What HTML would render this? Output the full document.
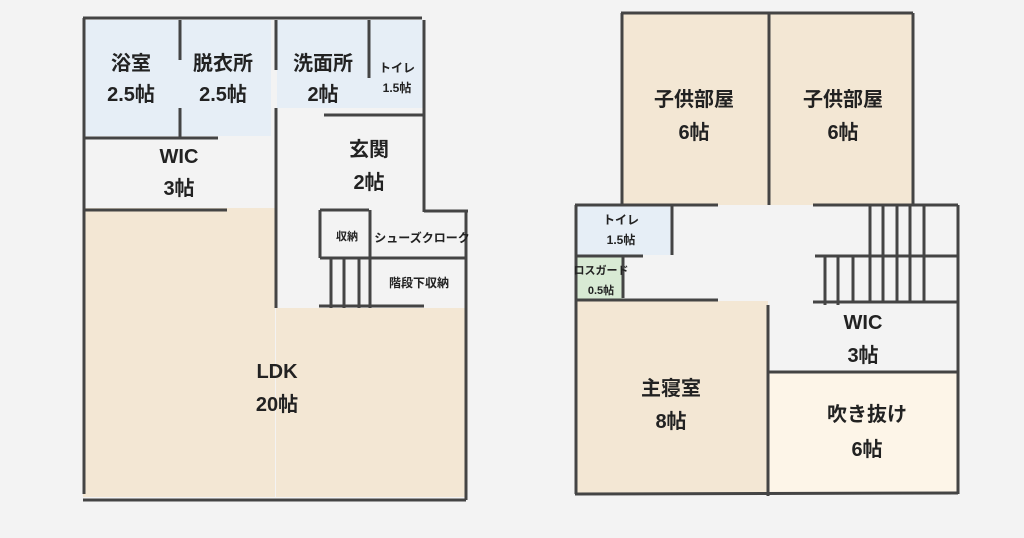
<!DOCTYPE html>
<html><head><meta charset="utf-8"><style>
html,body{margin:0;padding:0;background:#f3f3f3;}
svg{display:block;}
text{font-family:"Liberation Sans","Noto Sans CJK JP",sans-serif;font-weight:bold;fill:#222;text-anchor:middle;}
</style></head><body>
<svg width="1024" height="538" viewBox="0 0 1024 538" xmlns="http://www.w3.org/2000/svg">
<rect width="1024" height="538" fill="#f3f3f3"/>
<rect x="83" y="20" width="188" height="116" fill="#e6eef6"/>
<rect x="277" y="20" width="147" height="88" fill="#e6eef6"/>
<rect x="83" y="208" width="192" height="289" fill="#f3e7d4"/>
<rect x="276" y="308" width="189" height="189" fill="#f3e7d4"/>
<g stroke="#444" stroke-width="3" fill="none">
<line x1="83" y1="18" x2="422" y2="18"/>
<line x1="84" y1="18" x2="84" y2="494"/>
<line x1="83" y1="500" x2="466" y2="500"/>
<line x1="424" y1="20" x2="424" y2="212"/>
<line x1="424" y1="211" x2="468" y2="211"/>
<line x1="466" y1="211" x2="466" y2="500"/>
<line x1="180" y1="20" x2="180" y2="60"/>
<line x1="180" y1="108" x2="180" y2="138"/>
<line x1="276" y1="20" x2="276" y2="70"/>
<line x1="276" y1="108" x2="276" y2="308"/>
<line x1="369" y1="20" x2="369" y2="78"/>
<line x1="324" y1="115" x2="424" y2="115"/>
<line x1="83" y1="138" x2="218" y2="138"/>
<line x1="83" y1="210" x2="227" y2="210"/>
<line x1="320" y1="210" x2="369" y2="210"/>
<line x1="320" y1="210" x2="320" y2="258"/>
<line x1="370" y1="210" x2="370" y2="308"/>
<line x1="320" y1="258" x2="466" y2="258"/>
<line x1="331" y1="258" x2="331" y2="308"/>
<line x1="344" y1="258" x2="344" y2="308"/>
<line x1="359" y1="258" x2="359" y2="308"/>
<line x1="319" y1="306" x2="424" y2="306"/>
</g>
<text x="131" y="70" font-size="20">浴室</text>
<text x="131" y="101" font-size="20">2.5帖</text>
<text x="223" y="70" font-size="20">脱衣所</text>
<text x="223" y="101" font-size="20">2.5帖</text>
<text x="323" y="70" font-size="20">洗面所</text>
<text x="323" y="101" font-size="20">2帖</text>
<text x="397" y="72" font-size="12">トイレ</text>
<text x="397" y="92" font-size="12">1.5帖</text>
<text x="179" y="163" font-size="20">WIC</text>
<text x="179" y="195" font-size="20">3帖</text>
<text x="369" y="156" font-size="20">玄関</text>
<text x="369" y="189" font-size="20">2帖</text>
<text x="347" y="240" font-size="11" font-weight="normal">収納</text>
<text x="422" y="242" font-size="12" font-weight="normal">シューズクローク</text>
<text x="419" y="287" font-size="12" font-weight="normal">階段下収納</text>
<text x="277" y="378" font-size="20">LDK</text>
<text x="277" y="411" font-size="20">20帖</text>
<rect x="622" y="13" width="291" height="192" fill="#f3e7d4"/>
<rect x="575" y="206" width="97" height="49" fill="#e6eef6"/>
<rect x="575" y="256" width="48" height="44" fill="#d8ead4"/>
<rect x="575" y="301" width="193" height="193" fill="#f3e7d4"/>
<rect x="768" y="372" width="190" height="122" fill="#fdf5e8"/>
<g stroke="#444" stroke-width="3" fill="none">
<line x1="621" y1="13" x2="913" y2="13"/>
<line x1="622" y1="13" x2="622" y2="205"/>
<line x1="769" y1="13" x2="769" y2="205"/>
<line x1="913" y1="13" x2="913" y2="205"/>
<line x1="575" y1="205" x2="718" y2="205"/>
<line x1="813" y1="205" x2="958" y2="205"/>
<line x1="576" y1="205" x2="576" y2="494"/>
<line x1="958" y1="205" x2="958" y2="494"/>
<line x1="672" y1="205" x2="672" y2="255"/>
<line x1="575" y1="256" x2="643" y2="256"/>
<line x1="623" y1="256" x2="623" y2="298"/>
<line x1="575" y1="300" x2="718" y2="300"/>
<line x1="768" y1="305" x2="768" y2="496"/>
<line x1="768" y1="372" x2="958" y2="372"/>
<line x1="575" y1="494" x2="958" y2="493"/>
<line x1="815" y1="256" x2="958" y2="256"/>
<line x1="813" y1="302" x2="958" y2="302"/>
<line x1="870" y1="205" x2="870" y2="302"/>
<line x1="883" y1="205" x2="883" y2="302"/>
<line x1="897" y1="205" x2="897" y2="302"/>
<line x1="910" y1="205" x2="910" y2="302"/>
<line x1="924" y1="205" x2="924" y2="302"/>
<line x1="825" y1="256" x2="825" y2="305"/>
<line x1="838" y1="256" x2="838" y2="305"/>
<line x1="853" y1="256" x2="853" y2="302"/>
</g>
<text x="694" y="106" font-size="20">子供部屋</text>
<text x="694" y="139" font-size="20">6帖</text>
<text x="843" y="106" font-size="20">子供部屋</text>
<text x="843" y="139" font-size="20">6帖</text>
<text x="621" y="224" font-size="12">トイレ</text>
<text x="621" y="244" font-size="12">1.5帖</text>
<text x="601" y="274" font-size="11">ロスガード</text>
<text x="601" y="294" font-size="11">0.5帖</text>
<text x="863" y="329" font-size="20">WIC</text>
<text x="863" y="362" font-size="20">3帖</text>
<text x="671" y="395" font-size="20">主寝室</text>
<text x="671" y="428" font-size="20">8帖</text>
<text x="867" y="421" font-size="20">吹き抜け</text>
<text x="867" y="456" font-size="20">6帖</text>
</svg>
</body></html>
